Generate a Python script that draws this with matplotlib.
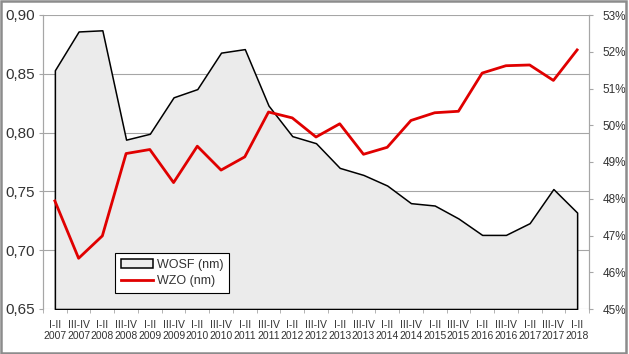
import matplotlib
matplotlib.use("Agg")
import matplotlib.pyplot as plt
from matplotlib.patches import Rectangle, Patch
from matplotlib.lines import Line2D
from matplotlib.ticker import FixedLocator, FuncFormatter

periods = ["I-II", "III-IV"] * 11 + ["I-II"]
years = [str(y) for y in range(2007, 2018) for _ in range(2)] + ["2018"]
labels = [f"{p}\n{y}" for p, y in zip(periods, years)]

wosf = [0.853, 0.886, 0.887, 0.794, 0.799, 0.830, 0.837, 0.868, 0.871, 0.823,
        0.797, 0.791, 0.770, 0.764, 0.755, 0.740, 0.738, 0.727, 0.713, 0.713,
        0.723, 0.752, 0.732]
wzo = [47.94, 46.38, 46.99, 49.23, 49.34, 48.44, 49.43, 48.78, 49.14, 50.36,
       50.20, 49.68, 50.04, 49.21, 49.40, 50.13, 50.34, 50.38, 51.42, 51.62,
       51.64, 51.22, 52.05]

plt.rcParams["font.family"] = ["Liberation Sans", "DejaVu Sans"]
text_col = "#333333"
grid_col = "#a6a6a6"

fig = plt.figure(figsize=(6.29, 3.54), dpi=100)
ax = fig.add_axes([43 / 629, 1 - 309 / 354, 546 / 629, 294 / 354])
ax2 = ax.twinx()

x = list(range(len(wosf)))
ax.fill_between(x, 0.65, wosf, facecolor="#ebebeb", edgecolor="black",
                linewidth=1.1, zorder=2)
ax2.plot(x, wzo, color="#e00000", linewidth=2.0, zorder=3)

ax.set_xlim(-0.5, len(x) - 0.5)
ax.set_ylim(0.65, 0.90)
ax2.set_ylim(45, 53)

ax.set_yticks([0.65, 0.70, 0.75, 0.80, 0.85, 0.90])
ax.yaxis.set_major_formatter(FuncFormatter(lambda v, _: f"{v:.2f}".replace(".", ",")))
ax2.set_yticks(range(45, 54))
ax2.yaxis.set_major_formatter(FuncFormatter(lambda v, _: f"{v:.0f}%"))

ax.grid(axis="y", color=grid_col, linewidth=0.8, zorder=1)
ax.set_axisbelow(True)

ax.set_xticks(x)
ax.set_xticklabels(labels, fontsize=7.5, color=text_col, linespacing=1.15)
ax.xaxis.set_minor_locator(FixedLocator([i - 0.5 for i in range(len(x) + 1)]))
ax.tick_params(axis="x", which="major", length=0, pad=8)
ax.tick_params(axis="x", which="minor", length=3, color=grid_col, direction="out")
ax.tick_params(axis="y", length=3, color=grid_col, labelsize=11,
               labelcolor=text_col, pad=3)
ax2.tick_params(axis="y", length=3, color=grid_col, labelsize=8.5,
                labelcolor=text_col, pad=7)

for a in (ax, ax2):
    for side in ("top", "bottom"):
        a.spines[side].set_visible(False)
    a.spines["left"].set_color(grid_col)
    a.spines["right"].set_color(grid_col)
ax2.patch.set_visible(False)

handles = [Patch(facecolor="#eeeeee", edgecolor="black", linewidth=1.1),
           Line2D([], [], color="#e00000", linewidth=2.0)]
leg = ax2.legend(handles, ["WOSF (nm)", "WZO (nm)"], loc="lower left",
                 bbox_to_anchor=(0.132, 0.054), fontsize=9, frameon=True,
                 fancybox=False, borderpad=0.45, handlelength=2.6,
                 handletextpad=0.3, labelspacing=0.35, borderaxespad=0,
                 framealpha=1)
leg.get_frame().set_edgecolor("black")
leg.get_frame().set_linewidth(0.8)
leg.set_zorder(5)
for t in leg.get_texts():
    t.set_color(text_col)

fig.patches.append(Rectangle((0.002, 0.003), 0.994, 0.994, transform=fig.transFigure,
                             fill=False, edgecolor="#8c8c8c", linewidth=1.8))

fig.savefig("out.png", dpi=100)
